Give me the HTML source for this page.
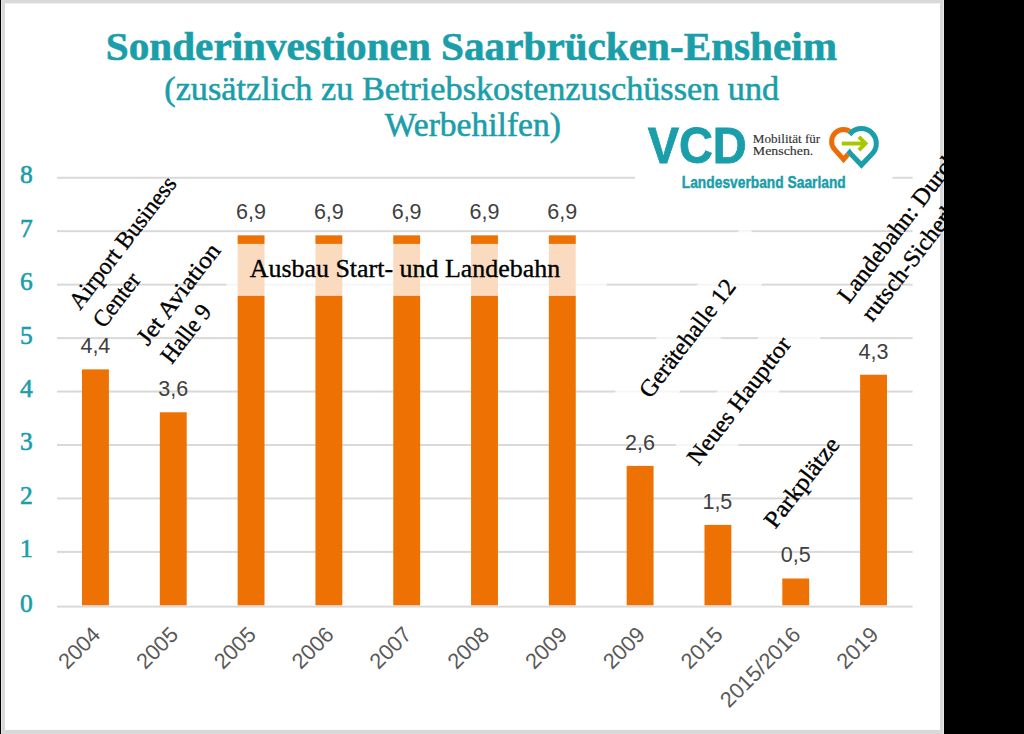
<!DOCTYPE html><html><head><meta charset="utf-8"><style>html,body{margin:0;padding:0;background:#000;}svg{display:block}</style></head><body>
<svg width="1024" height="734" viewBox="0 0 1024 734">
<rect x="0" y="0" width="1024" height="734" fill="#000"/>
<rect x="1" y="0" width="943" height="734" fill="#d9d9d9"/>
<rect x="1" y="0" width="1" height="734" fill="#e6e6e6"/>
<rect x="943" y="0" width="1" height="734" fill="#e8e8e8"/>
<rect x="5" y="3" width="935" height="727" fill="#fff"/>
<rect x="5" y="3" width="935" height="1" fill="#f0f0f0"/>
<defs><clipPath id="cp"><rect x="5" y="3" width="935" height="727"/></clipPath></defs>
<g clip-path="url(#cp)">
<rect x="57.0" y="605.60" width="855.60" height="2" fill="#d9d9d9"/>
<rect x="57.0" y="550.90" width="855.60" height="2" fill="#d9d9d9"/>
<rect x="57.0" y="497.45" width="855.60" height="2" fill="#d9d9d9"/>
<rect x="57.0" y="444.00" width="855.60" height="2" fill="#d9d9d9"/>
<rect x="57.0" y="390.55" width="855.60" height="2" fill="#d9d9d9"/>
<rect x="57.0" y="337.10" width="855.60" height="2" fill="#d9d9d9"/>
<rect x="57.0" y="283.65" width="855.60" height="2" fill="#d9d9d9"/>
<rect x="57.0" y="230.20" width="855.60" height="2" fill="#d9d9d9"/>
<rect x="57.0" y="176.75" width="855.60" height="2" fill="#d9d9d9"/>
<rect x="82.00" y="369.37" width="26.9" height="235.93" fill="#ee7203"/>
<rect x="159.81" y="412.27" width="26.9" height="193.03" fill="#ee7203"/>
<rect x="237.62" y="235.32" width="26.9" height="369.98" fill="#ee7203"/>
<rect x="315.43" y="235.32" width="26.9" height="369.98" fill="#ee7203"/>
<rect x="393.24" y="235.32" width="26.9" height="369.98" fill="#ee7203"/>
<rect x="471.05" y="235.32" width="26.9" height="369.98" fill="#ee7203"/>
<rect x="548.86" y="235.32" width="26.9" height="369.98" fill="#ee7203"/>
<rect x="626.67" y="465.89" width="26.9" height="139.41" fill="#ee7203"/>
<rect x="704.48" y="524.87" width="26.9" height="80.43" fill="#ee7203"/>
<rect x="782.29" y="578.49" width="26.9" height="26.81" fill="#ee7203"/>
<rect x="860.10" y="374.73" width="26.9" height="230.57" fill="#ee7203"/>
<text x="80.45" y="353.17" font-family="Liberation Sans" font-size="21.5" fill="#404040">4,4</text>
<text x="158.26" y="396.07" font-family="Liberation Sans" font-size="21.5" fill="#404040">3,6</text>
<text x="236.07" y="219.12" font-family="Liberation Sans" font-size="21.5" fill="#404040">6,9</text>
<text x="313.88" y="219.12" font-family="Liberation Sans" font-size="21.5" fill="#404040">6,9</text>
<text x="391.69" y="219.12" font-family="Liberation Sans" font-size="21.5" fill="#404040">6,9</text>
<text x="469.50" y="219.12" font-family="Liberation Sans" font-size="21.5" fill="#404040">6,9</text>
<text x="547.31" y="219.12" font-family="Liberation Sans" font-size="21.5" fill="#404040">6,9</text>
<text x="625.12" y="449.69" font-family="Liberation Sans" font-size="21.5" fill="#404040">2,6</text>
<text x="702.43" y="508.67" font-family="Liberation Sans" font-size="21.5" fill="#404040">1,5</text>
<text x="780.74" y="562.29" font-family="Liberation Sans" font-size="21.5" fill="#404040">0,5</text>
<text x="858.55" y="358.53" font-family="Liberation Sans" font-size="21.5" fill="#404040">4,3</text>
<text x="32.8" y="612.00" text-anchor="end" font-family="Liberation Serif" font-size="25.5" fill="#1a9eaa" stroke="#1a9eaa" stroke-width="0.6">0</text>
<text x="32.8" y="557.30" text-anchor="end" font-family="Liberation Serif" font-size="25.5" fill="#1a9eaa" stroke="#1a9eaa" stroke-width="0.6">1</text>
<text x="32.8" y="503.85" text-anchor="end" font-family="Liberation Serif" font-size="25.5" fill="#1a9eaa" stroke="#1a9eaa" stroke-width="0.6">2</text>
<text x="32.8" y="450.40" text-anchor="end" font-family="Liberation Serif" font-size="25.5" fill="#1a9eaa" stroke="#1a9eaa" stroke-width="0.6">3</text>
<text x="32.8" y="396.95" text-anchor="end" font-family="Liberation Serif" font-size="25.5" fill="#1a9eaa" stroke="#1a9eaa" stroke-width="0.6">4</text>
<text x="32.8" y="343.50" text-anchor="end" font-family="Liberation Serif" font-size="25.5" fill="#1a9eaa" stroke="#1a9eaa" stroke-width="0.6">5</text>
<text x="32.8" y="290.05" text-anchor="end" font-family="Liberation Serif" font-size="25.5" fill="#1a9eaa" stroke="#1a9eaa" stroke-width="0.6">6</text>
<text x="32.8" y="236.60" text-anchor="end" font-family="Liberation Serif" font-size="25.5" fill="#1a9eaa" stroke="#1a9eaa" stroke-width="0.6">7</text>
<text x="32.8" y="183.15" text-anchor="end" font-family="Liberation Serif" font-size="25.5" fill="#1a9eaa" stroke="#1a9eaa" stroke-width="0.6">8</text>
<text transform="translate(101.65,636.00) rotate(-45)" x="0" y="0" text-anchor="end" font-family="Liberation Sans" font-size="21.8" fill="#595959">2004</text>
<text transform="translate(179.46,636.00) rotate(-45)" x="0" y="0" text-anchor="end" font-family="Liberation Sans" font-size="21.8" fill="#595959">2005</text>
<text transform="translate(257.27,636.00) rotate(-45)" x="0" y="0" text-anchor="end" font-family="Liberation Sans" font-size="21.8" fill="#595959">2005</text>
<text transform="translate(335.08,636.00) rotate(-45)" x="0" y="0" text-anchor="end" font-family="Liberation Sans" font-size="21.8" fill="#595959">2006</text>
<text transform="translate(412.89,636.00) rotate(-45)" x="0" y="0" text-anchor="end" font-family="Liberation Sans" font-size="21.8" fill="#595959">2007</text>
<text transform="translate(490.70,636.00) rotate(-45)" x="0" y="0" text-anchor="end" font-family="Liberation Sans" font-size="21.8" fill="#595959">2008</text>
<text transform="translate(568.51,636.00) rotate(-45)" x="0" y="0" text-anchor="end" font-family="Liberation Sans" font-size="21.8" fill="#595959">2009</text>
<text transform="translate(646.32,636.00) rotate(-45)" x="0" y="0" text-anchor="end" font-family="Liberation Sans" font-size="21.8" fill="#595959">2009</text>
<text transform="translate(724.13,636.00) rotate(-45)" x="0" y="0" text-anchor="end" font-family="Liberation Sans" font-size="21.8" fill="#595959">2015</text>
<text transform="translate(801.94,636.00) rotate(-45)" x="0" y="0" text-anchor="end" font-family="Liberation Sans" font-size="21.8" fill="#595959">2015/2016</text>
<text transform="translate(879.75,636.00) rotate(-45)" x="0" y="0" text-anchor="end" font-family="Liberation Sans" font-size="21.8" fill="#595959">2019</text>
<rect x="226.3" y="243.9" width="380.5" height="52" fill="#fff" fill-opacity="0.75"/>
<rect transform="translate(650.4,399.3) rotate(-52.5)" x="-20" y="-32.6" width="215" height="51.2" fill="#fff" fill-opacity="0.75"/>
<rect transform="translate(698.5,466.3) rotate(-52.5)" x="-20" y="-30.9" width="215" height="49.5" fill="#fff" fill-opacity="0.75"/>
<text x="105.79" y="60.30" font-family="Liberation Serif" font-weight="bold" font-size="41" fill="#1a9eaa" stroke="#1a9eaa" stroke-width="0.6" textLength="731.27" lengthAdjust="spacingAndGlyphs">Sonderinvestionen Saarbrücken-Ensheim</text>
<text x="164.26" y="99.60" font-family="Liberation Serif" font-weight="normal" font-size="33" fill="#1a9eaa" stroke="#1a9eaa" stroke-width="0.55" textLength="614.96" lengthAdjust="spacingAndGlyphs">(zusätzlich zu Betriebskostenzuschüssen und</text>
<text x="384.80" y="136.10" font-family="Liberation Serif" font-weight="normal" font-size="33" fill="#1a9eaa" stroke="#1a9eaa" stroke-width="0.55" textLength="176.07" lengthAdjust="spacingAndGlyphs">Werbehilfen)</text>
<text x="249.70" y="277.00" font-family="Liberation Serif" font-weight="normal" font-size="25" fill="#000000" stroke="#000000" stroke-width="0.35" textLength="310.54" lengthAdjust="spacingAndGlyphs">Ausbau Start- und Landebahn</text>
</g><defs><clipPath id="cp2"><rect x="0" y="3" width="944" height="727"/></clipPath></defs><g clip-path="url(#cp2)">
<text transform="translate(80.20,310.80) rotate(-52.5)" x="-0.19" y="0.00" font-family="Liberation Serif" font-size="24" fill="#000" stroke="#000" stroke-width="0.35" textLength="160.18" lengthAdjust="spacingAndGlyphs">Airport Business</text>
<text transform="translate(80.20,310.80) rotate(-52.5)" x="-0.17" y="30.00" font-family="Liberation Serif" font-size="24" fill="#000" stroke="#000" stroke-width="0.35" textLength="61.95" lengthAdjust="spacingAndGlyphs">Center</text>
<text transform="translate(148.00,346.60) rotate(-52.5)" x="-0.27" y="0.00" font-family="Liberation Serif" font-size="24" fill="#000" stroke="#000" stroke-width="0.35" textLength="121.05" lengthAdjust="spacingAndGlyphs">Jet Aviation</text>
<text transform="translate(148.00,346.60) rotate(-52.5)" x="-0.15" y="30.00" font-family="Liberation Serif" font-size="24" fill="#000" stroke="#000" stroke-width="0.35" textLength="66.79" lengthAdjust="spacingAndGlyphs">Halle 9</text>
<text transform="translate(650.40,399.30) rotate(-52.5)" x="-0.21" y="0.00" font-family="Liberation Serif" font-size="24" fill="#000" stroke="#000" stroke-width="0.35" textLength="142.22" lengthAdjust="spacingAndGlyphs">Gerätehalle 12</text>
<text transform="translate(698.50,466.30) rotate(-52.5)" x="-0.22" y="0.00" font-family="Liberation Serif" font-size="24" fill="#000" stroke="#000" stroke-width="0.35" textLength="154.02" lengthAdjust="spacingAndGlyphs">Neues Haupttor</text>
<text transform="translate(775.50,529.60) rotate(-52.5)" x="-0.26" y="0.00" font-family="Liberation Serif" font-size="24" fill="#000" stroke="#000" stroke-width="0.35" textLength="107.27" lengthAdjust="spacingAndGlyphs">Parkplätze</text>
<text transform="translate(848.90,304.30) rotate(-52.5)" x="-0.22" y="0.00" font-family="Liberation Serif" font-size="24" fill="#000" stroke="#000" stroke-width="0.35" textLength="191.01" lengthAdjust="spacingAndGlyphs">Landebahn: Durch-</text>
<text transform="translate(848.90,304.30) rotate(-52.5)" x="-0.22" y="30.00" font-family="Liberation Serif" font-size="24" fill="#000" stroke="#000" stroke-width="0.35" textLength="167.23" lengthAdjust="spacingAndGlyphs">rutsch-Sicherheit</text>
<rect x="635" y="112" width="257.5" height="86" fill="#fff"/>
<text x="647.66" y="162.70" font-family="Liberation Sans" font-weight="bold" font-size="50" fill="#1a9eaa" stroke="#1a9eaa" stroke-width="0.8" textLength="99.06" lengthAdjust="spacingAndGlyphs">VCD</text>
<text x="752.86" y="142.80" font-family="Liberation Serif" font-weight="normal" font-size="12.6" fill="#333333" stroke="#333333" stroke-width="0.15" textLength="67.35" lengthAdjust="spacingAndGlyphs">Mobilität für</text>
<text x="752.80" y="155.10" font-family="Liberation Serif" font-weight="normal" font-size="12.6" fill="#333333" stroke="#333333" stroke-width="0.15" textLength="60.52" lengthAdjust="spacingAndGlyphs">Menschen.</text>
<text x="681.79" y="188.20" font-family="Liberation Sans" font-weight="bold" font-size="17" fill="#1a9eaa" stroke="#1a9eaa" stroke-width="0.45" textLength="163.97" lengthAdjust="spacingAndGlyphs">Landesverband Saarland</text>
<defs><mask id="mo" maskUnits="userSpaceOnUse" x="800" y="100" width="120" height="100"><rect x="800" y="100" width="120" height="100" fill="#fff"/><path d="M843.50,159.43 L834.60,149.40 A11.9,11.9 0 1 1 852.40,149.40 Z" fill="#000" stroke="#fff" stroke-width="5.0" stroke-linejoin="miter"/></mask></defs>
<path d="M843.50,159.43 L834.60,149.40 A11.9,11.9 0 1 1 852.40,149.40 Z" fill="none" stroke="#ec6d08" stroke-width="5.0" stroke-linejoin="miter"/>
<path d="M861.40,165.08 L850.62,153.79 A14.9,14.9 0 1 1 872.18,153.79 Z" fill="#fff" stroke="#fff" stroke-width="5.0" stroke-linejoin="miter"/>
<path d="M861.40,165.08 L850.62,153.79 A14.9,14.9 0 1 1 872.18,153.79 Z" fill="none" stroke="#1a9eaa" stroke-width="5.0" stroke-linejoin="miter" mask="url(#mo)"/>
<rect x="841.8" y="141.6" width="23.5" height="3.9" fill="#a6c800"/>
<path d="M858.9,136.9 L865.5,143.5 L858.9,150.1" fill="none" stroke="#a6c800" stroke-width="3.9" stroke-linejoin="miter"/>
</g>
</svg></body></html>
